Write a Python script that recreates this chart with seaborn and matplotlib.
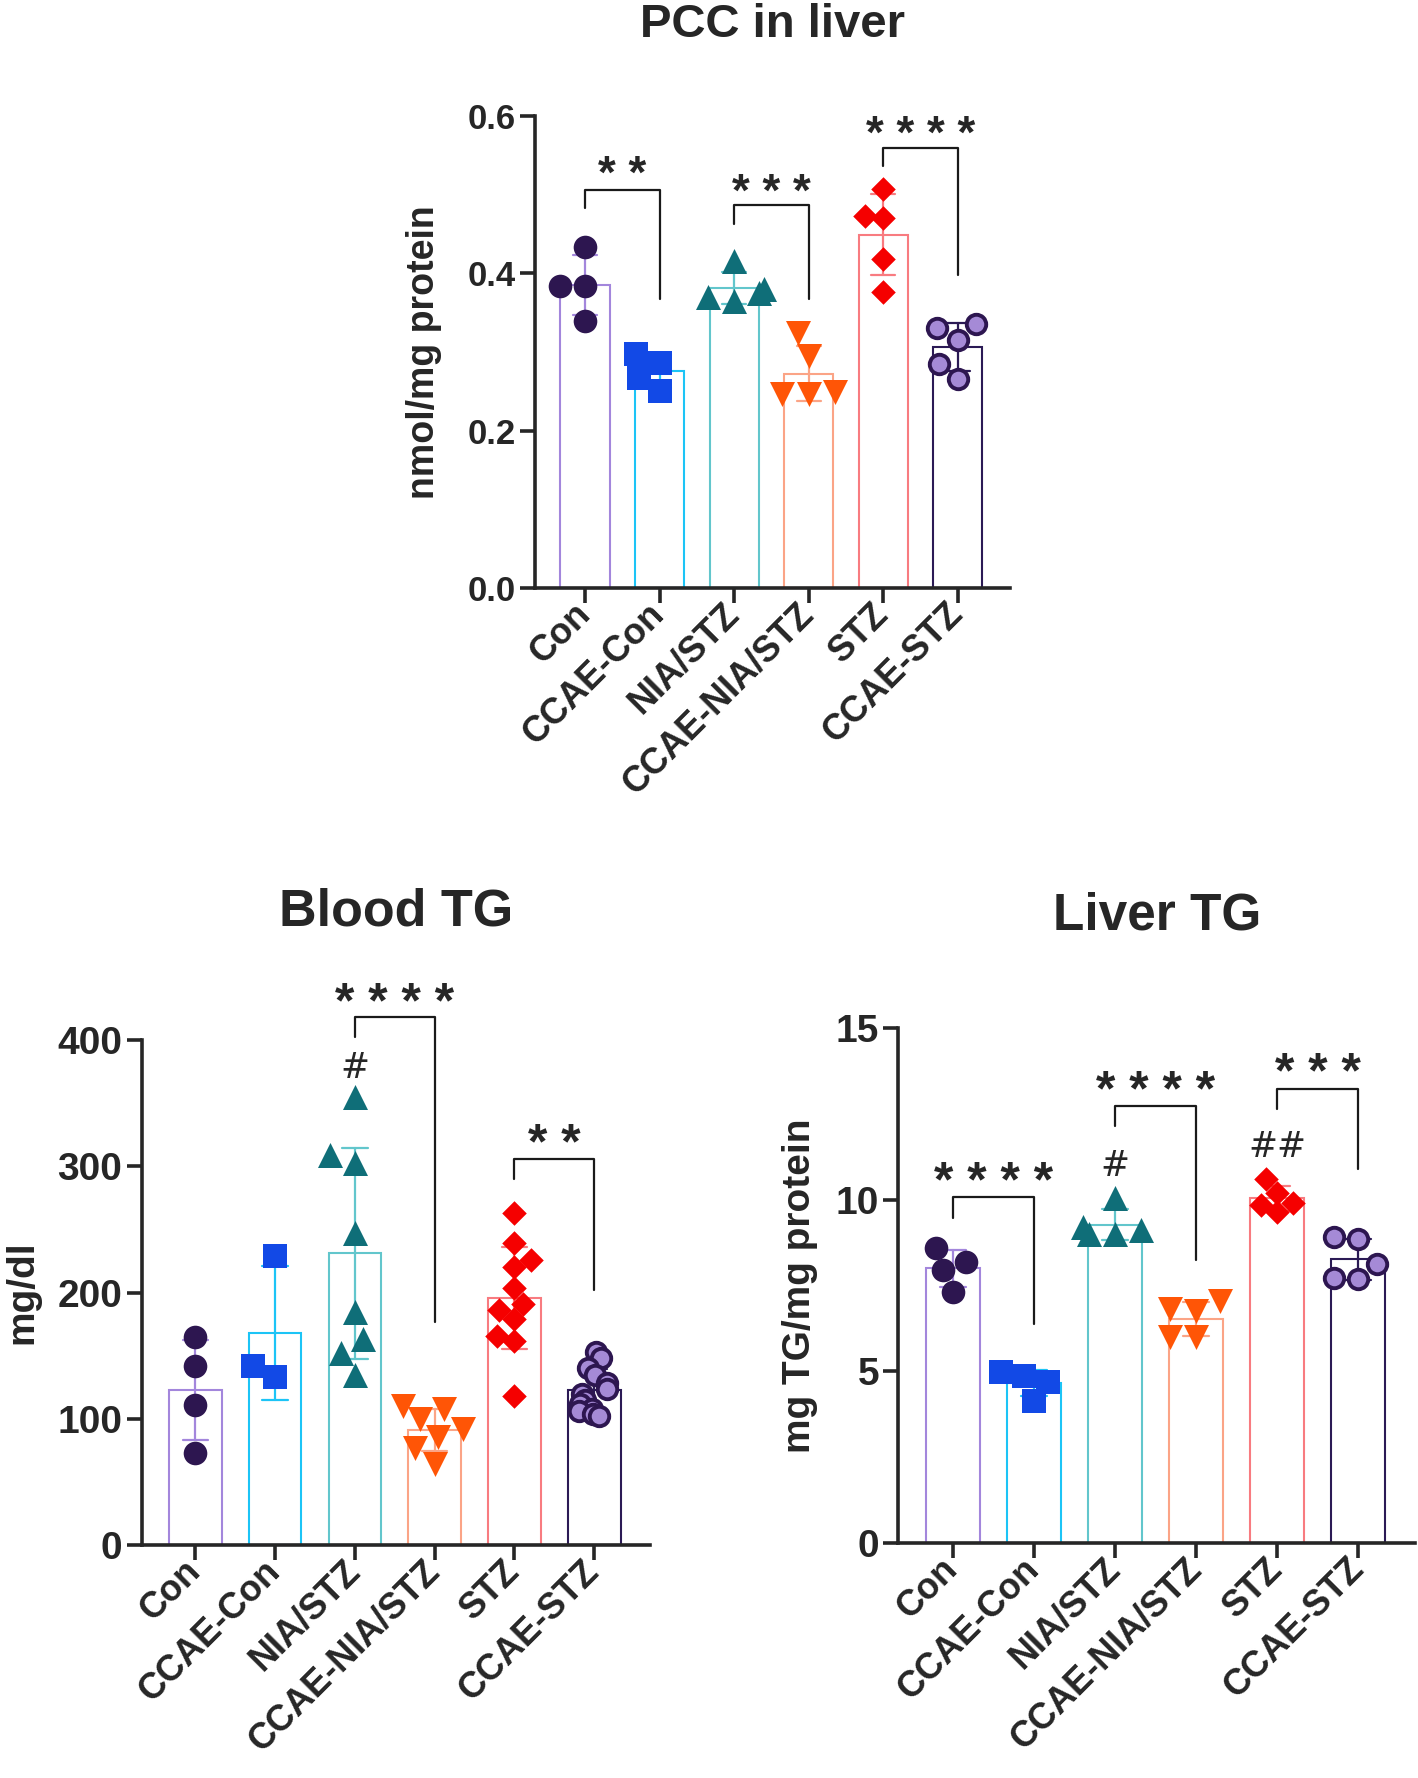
import numpy as np
import pandas as pd
import matplotlib.pyplot as plt
import seaborn as sns

# Grupos
groups = ['Con', 'CCAE-Con', 'NIA/STZ', 'CCAE-NIA/STZ', 'STZ', 'CCAE-STZ']

# PCC in liver (nmol/mg protein)
pcc_con = [0.433, 0.383, 0.383, 0.339]
pcc_ccae_con = [0.286, 0.297, 0.267, 0.250]
pcc_nia = [0.415, 0.365, 0.380, 0.370, 0.375]
pcc_ccae_nia = [0.324, 0.295, 0.247, 0.249, 0.247]
pcc_stz = [0.507, 0.470, 0.472, 0.418, 0.376]
pcc_ccae_stz = [0.335, 0.330, 0.315, 0.284, 0.265]

# Blood TG (mg/dl)
btg_con = [165, 142, 111, 73]
btg_ccae_con = [229, 133, 142]
btg_nia = [355, 309, 303, 247, 185, 163, 152, 135]
btg_ccae_nia = [110, 108, 100, 92, 86, 77, 64]
btg_stz = [263, 239, 226, 220, 204, 191, 186, 179, 166, 162, 118]
btg_ccae_stz = [153, 148, 140, 135, 128, 124, 120, 115, 112, 108, 106, 104, 102]

# Liver TG (mg TG/mg protein)
ltg_con = [8.60, 8.17, 7.94, 7.31]
ltg_ccae_con = [4.99, 4.85, 4.69, 4.12]
ltg_nia = [10.05, 9.20, 9.10, 9.00, 9.00]
ltg_ccae_nia = [7.05, 6.75, 6.80, 6.00, 6.00]
ltg_stz = [10.60, 10.19, 9.63, 9.84, 9.90]
ltg_ccae_stz = [8.86, 8.92, 8.12, 7.68, 7.72]

# Estilo
bar_colors = ['#A386DC', '#1CC4F6', '#62C6CC', '#FBA486', '#F87B80', '#2B1A55']
point_colors = ['#2D1650', '#1249E6', '#0F6E78', '#FF5506', '#F50000', '#A58AD6']
point_edges = ['#2D1650', '#1249E6', '#0F6E78', '#FF5506', '#F50000', '#2D1650']
point_lw = [0, 0, 0, 0, 0, 2.8]
markers = ['o', 's', '^', 'v', 'D', 'o']
msizes = [17, 17, 18, 18, 12.5, 14]


def long_df(series):
    rows = []
    for g, vals in zip(groups, series):
        for v in vals:
            rows.append({'grupo': g, 'valor': v})
    return pd.DataFrame(rows)


def bracket(ax, x1, x2, top, left_end, right_end, label, label_y, fs):
    ax.plot([x1, x1, x2, x2], [left_end, top, top, right_end], color='#1a1a1a',
            lw=1.6, clip_on=False, zorder=4)
    ax.annotate(label, ((x1 + x2) / 2, label_y), xytext=(0, -0.56 * fs),
                textcoords='offset points', ha='center', va='baseline',
                fontsize=fs, fontweight='bold', annotation_clip=False)


def hash_mark(ax, x, y, label, fs):
    ax.annotate(label, (x, y), xytext=(0, -0.36 * fs), textcoords='offset points',
                ha='center', va='baseline', fontsize=fs, fontweight='normal',
                family='DejaVu Sans', annotation_clip=False)


def painel(ax, series, ylim, yticks, yticklabels, ylabel, ylabel_x, tick_fs,
           title, title_xy, title_fs, strip_groups=()):
    df = long_df(series)
    sns.barplot(data=df, x='grupo', y='valor', hue='grupo', order=groups, hue_order=groups,
                palette=dict(zip(groups, bar_colors)), fill=False, errorbar='sd',
                capsize=0.32, width=0.66, linewidth=1.5, err_kws={'linewidth': 1.6},
                legend=False, ax=ax)
    for i, g in enumerate(groups):
        kw = dict(x=[g] * len(series[i]), y=series[i], order=groups, marker=markers[i],
                  size=msizes[i], color=point_colors[i], edgecolor=point_edges[i],
                  linewidth=point_lw[i], ax=ax, zorder=3)
        if g in strip_groups:
            # grupo muito cheio: pontos sobrepostos como no original
            np.random.seed(3)
            sns.stripplot(jitter=0.2, **kw)
        else:
            sns.swarmplot(warn_thresh=1, **kw)
    ax.set_xlim(-0.67, 5.7)
    ax.set_ylim(*ylim)
    ax.set_yticks(yticks)
    ax.set_yticklabels(yticklabels, fontsize=tick_fs, fontweight='bold')
    ax.set_xticks(range(len(groups)))
    ax.set_xticklabels(groups, rotation=45, ha='right', va='center', rotation_mode='anchor',
                       fontsize=26, fontweight='bold')
    ax.set_xlabel('')
    ax.set_ylabel(ylabel, fontsize=28, fontweight='bold')
    ax.yaxis.set_label_coords(ylabel_x, 0.5)
    sns.despine(ax=ax)
    for s in ['left', 'bottom']:
        ax.spines[s].set_linewidth(2.6)
    ax.tick_params(axis='both', length=11, width=2.6, pad=4)
    ax.tick_params(axis='y', pad=3)
    ax.figure.text(title_xy[0], title_xy[1], title, ha='center', va='baseline',
                   fontsize=title_fs, fontweight='bold')


sns.set_style('ticks')
plt.rcParams['font.family'] = ['Liberation Sans', 'DejaVu Sans']
plt.rcParams['font.weight'] = 'bold'

fig = plt.figure(figsize=(14.18, 17.78), dpi=100)

# PCC in liver
ax1 = fig.add_axes([0.3773, 0.6693, 0.335, 0.2657])
painel(ax1, [pcc_con, pcc_ccae_con, pcc_nia, pcc_ccae_nia, pcc_stz, pcc_ccae_stz],
       (0, 0.6), [0, 0.2, 0.4, 0.6], ['0.0', '0.2', '0.4', '0.6'],
       'nmol/mg protein', -0.195, 25, 'PCC in liver', (0.5446, 0.979), 34)
ax1.yaxis.label.set_fontsize(27)
bracket(ax1, 0, 1, 0.506, 0.4825, 0.367, '* *', 0.540, 33)
bracket(ax1, 2, 3, 0.486, 0.462, 0.367, '* * *', 0.518, 33)
bracket(ax1, 4, 5, 0.559, 0.536, 0.398, '* * * *', 0.591, 33)

# Blood TG
ax2 = fig.add_axes([0.1001, 0.131, 0.3583, 0.284])
painel(ax2, [btg_con, btg_ccae_con, btg_nia, btg_ccae_nia, btg_stz, btg_ccae_stz],
       (0, 400), [0, 100, 200, 300, 400], ['0', '100', '200', '300', '400'],
       'mg/dl', -0.20, 28, 'Blood TG', (0.2793, 0.4792), 37.5, strip_groups=('CCAE-STZ',))
bracket(ax2, 2, 3, 418, 402.5, 177, '* * * *', 440, 36)
bracket(ax2, 4, 5, 306, 290, 202, '* *', 328, 36)
hash_mark(ax2, 2, 380, '#', 25)

# Liver TG
ax3 = fig.add_axes([0.6336, 0.1322, 0.3643, 0.2897])
painel(ax3, [ltg_con, ltg_ccae_con, ltg_nia, ltg_ccae_nia, ltg_stz, ltg_ccae_stz],
       (0, 15), [0, 5, 10, 15], ['0', '5', '10', '15'],
       'mg TG/mg protein', -0.155, 28, 'Liver TG', (0.8157, 0.4772), 37)
bracket(ax3, 0, 1, 10.06, 9.47, 6.39, '* * * *', 10.89, 36)
bracket(ax3, 2, 3, 12.73, 12.13, 8.23, '* * * *', 13.53, 36)
bracket(ax3, 4, 5, 13.21, 12.64, 10.89, '* * *', 14.05, 36)
hash_mark(ax3, 2, 11.06, '#', 25)
hash_mark(ax3, 4, 11.6, '##', 25)

plt.savefig('out.png', dpi=100)
